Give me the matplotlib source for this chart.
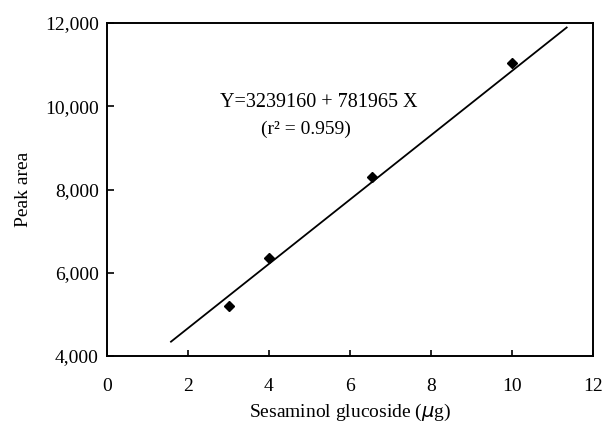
import numpy as np
import matplotlib.pyplot as plt

plt.rcParams['font.family'] = ['Liberation Serif', 'DejaVu Serif']

# measured points
amount = [3.0, 4.0, 6.55, 10.0]
peak_area = [5190, 6360, 8300, 11030]

# regression line as drawn in the figure
line_x = [1.58, 11.35]
line_y = [4344, 11892]

xticks = [0, 2, 4, 6, 8, 10, 12]
yticks = [4000, 6000, 8000, 10000, 12000]
ytick_labels = ['4,000', '6,000', '8,000', '10,000', '12,000']


def main():
    fig = plt.figure(figsize=(6.02, 4.30), dpi=100)
    ax = fig.add_axes([107 / 602, 1 - 356 / 430, 486 / 602, 333 / 430])

    ax.plot(line_x, line_y, color='black', lw=1.3)
    ax.plot(amount, peak_area, 'D', color='black', markersize=5.5)

    ax.set_xlim(0, 12)
    ax.set_ylim(4000, 12000)
    ax.set_xticks(xticks)
    ax.set_xticklabels([str(v) for v in xticks])
    ax.set_yticks(yticks)
    ax.set_yticklabels(ytick_labels)

    ax.tick_params(axis='x', direction='in', length=4, width=1.2,
                   pad=16, labelsize=14)
    ax.tick_params(axis='y', direction='in', length=5, width=1.2,
                   pad=6, labelsize=14)
    for sp in ax.spines.values():
        sp.set_linewidth(1.4)

    ax.set_xlabel('Sesaminol glucoside ($\\mu$g)', fontsize=14, labelpad=5)
    ax.set_ylabel('Peak area', fontsize=14, labelpad=9)

    ax.text(5.23, 10100, 'Y=3239160 + 781965 X', fontsize=14.5,
            ha='center', va='center')
    ax.text(4.92, 9450, '(r² = 0.959)', fontsize=14,
            ha='center', va='center')

    fig.savefig('out.png', dpi=100)


if __name__ == '__main__':
    main()
